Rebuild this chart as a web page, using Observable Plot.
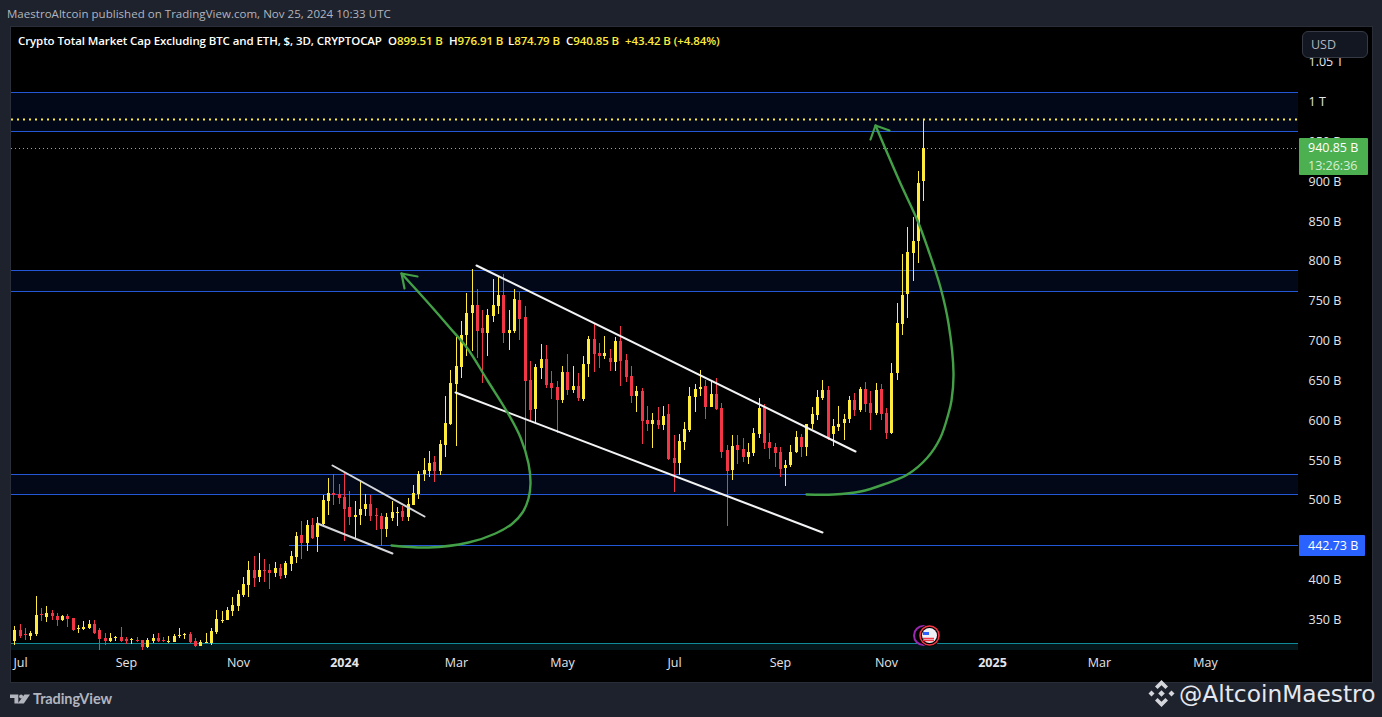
<!DOCTYPE html>
<html><head><meta charset="utf-8">
<script src="https://cdn.jsdelivr.net/npm/d3@7"></script>
<script src="https://cdn.jsdelivr.net/npm/@observablehq/plot@0.6"></script>
<style>
html,body{margin:0;padding:0;background:#1e222d;width:1382px;height:717px;overflow:hidden;font-family:"Open Sans",sans-serif}
#publish{position:absolute;left:7px;top:6px;font-size:11.5px;line-height:16px;color:#b2b5be;white-space:nowrap;letter-spacing:.03px}
#panel{position:absolute;left:10px;top:26px;width:1361px;height:655px;border:1px solid #2a2e39;background:#000;box-sizing:content-box}
#chart{position:absolute;left:0;top:0}
#legend{position:absolute;left:18px;top:33px;font-size:11.5px;font-weight:600;line-height:16px;color:#fff;white-space:nowrap;letter-spacing:-.1px}
#legend span{position:absolute;top:0;white-space:nowrap}
#legend i{font-style:normal;color:#ffeb3b}
#usd{position:absolute;left:1302px;top:31px;width:66px;height:27px;box-sizing:border-box;border:1px solid #363a45;border-radius:6px;background:#131722;color:#b2b5be;font-size:12.5px;line-height:26px;padding-left:8px}
.tag{position:absolute;left:1299px;color:#fff;font-size:12.5px;font-weight:500;box-sizing:border-box;white-space:nowrap;text-align:left;padding-left:9px;border-radius:1px}
#tagClose{width:69px;height:37px;background:#4caf50;line-height:18px;padding-top:1px}
#tagClose small{display:block;font-size:12.5px;font-weight:400;color:#d6f0d6}
#tagLevel{width:66px;height:21px;background:#2962ff;line-height:21px}
#tv{position:absolute;left:33px;top:690px;font-family:Lato,sans-serif;font-size:14.5px;line-height:18px;font-weight:700;color:#b2b5be;letter-spacing:-.1px}
#tvlogo{position:absolute;left:10px;top:694px}
#handle{position:absolute;left:1179px;top:677px;font-family:"DejaVu Sans",sans-serif;font-size:23.3px;line-height:34px;color:#e6e8ee;white-space:nowrap}
#binance{position:absolute;left:1147px;top:680px}
</style></head><body>
<div id="publish">MaestroAltcoin published on TradingView.com, Nov 25, 2024 10:33 UTC</div>
<div id="panel"></div>
<div id="legend"></div>
<div id="usd">USD</div>
<div id="tagClose" class="tag"></div>
<div id="tagLevel" class="tag"></div>
<svg id="tvlogo" width="20" height="10" viewBox="0 0 36 18" preserveAspectRatio="none" fill="#b2b5be"><path d="M0 1h15v16H8V7H0z"/><circle cx="20" cy="4.500" r="3.500"/><path d="M26 1h10L25 17H14z"/></svg>
<div id="tv">TradingView</div>
<svg id="binance" width="29" height="27" viewBox="0 0 29 27" fill="#d4d6dc"><path d="M14.5 0l6.500 6.500-2.600 2.600-3.900-3.900-3.900 3.900L8 6.500z"/><path d="M14.500 27l6.500-6.500-2.600-2.600-3.900 3.900-3.900-3.900L8 20.500z"/><path d="M4.500 10.500l3 3-3 3-3-3z"/><path d="M24.500 10.500l3 3-3 3-3-3z"/><path d="M14.500 10.200l3.300 3.300-3.300 3.300-3.300-3.300z"/></svg>
<div id="handle">@AltcoinMaestro</div>
<script>
// ---- header text ----
const publisher = "MaestroAltcoin published on TradingView.com, Nov 25, 2024 10:33 UTC";
const seriesTitle = "Crypto Total Market Cap Excluding BTC and ETH, $, 3D, CRYPTOCAP";
const ohlcLabels = ["O", "H", "L", "C"];
const ohlcValues = ["899.51 B", "976.91 B", "874.79 B", "940.85 B"];
const changeText = "+43.42 B (+4.84%)";

// ---- 3-day candles, billions of USD, oldest first ----
const firstBarDate = "2023-06-30";
const barDays = 3;
const opens = [322.3,336.1,330.3,328.6,331.1,356.2,352.4,357.5,353.7,348.7,353.7,351.2,337.8,337.4,338.6,343.7,336.1,326.1,322.3,326.5,327.4,324.9,323.6,323.6,323.6,314.8,322.3,326.1,323.6,321.5,321.5,329.0,329.9,331.1,322.3,316.1,319.8,319.8,333.6,347.8,348.7,360,366.2,380,392.6,411.4,402.6,411.4,411.4,407.6,413.9,405.1,418.9,427.9,455.5,445.4,468,453,469.3,498.1,508.1,506.9,503.1,490.6,478,480.5,488.1,494.3,480.5,479.3,463,476.8,483,485.6,478,493.1,506.9,532,535.7,547,535.8,568.4,594.7,644.9,666.2,706.4,733.9,744,715.1,708.9,730.2,742.7,756.5,708.9,711.4,750.2,728.9,649.9,613.6,665,676.3,646.2,641.1,624.8,660,637.4,642.4,626.1,670,701.3,683.8,680,677.5,672.5,698.8,675,654.9,629.9,636.1,599.8,594.7,599.7,593.4,607.2,552.1,545.8,572.1,587.2,628.6,638.6,642.4,616,632.3,614.8,562.1,537,568.4,563.4,553.3,558.3,582.2,616,572.1,565.9,559.6,539.5,543.3,559.6,578.4,565.9,594.7,606,627.3,637.3,582.2,590.9,596,601,624.8,612.3,638.6,621,608.5,638.6,608.5,583.4,658.8,720.3,757.9,809.3,824.4,899.51];
const highs = [341.2,343.7,338.6,334.9,378.8,363.7,366.2,361.2,357.5,354.9,356.2,351.2,342.4,347.4,348.7,348.7,338.6,332.4,332.4,328.6,339.9,327.4,326.1,327.4,323.6,326.1,331.1,332.4,327.4,328.6,331.1,338.6,332.4,333.6,326.1,323.6,332.4,338.6,361.2,360,365,377.5,386.3,402.6,422.7,428.9,432.7,425.2,418.9,421.4,418.9,422.7,435.2,459.2,473,474.3,476.8,478,505.6,526.9,532,519.4,534.5,510.6,498.1,524.4,506.9,505.6,489.3,483,483,498.1,490.6,491.8,501.9,518.2,535.7,552,560.8,554.5,574.7,629.9,662.5,703.9,723.9,759,789.1,764,737.7,739,776.6,779.1,782.8,737.7,764,760.3,742.7,673.7,670,695,693.8,661.2,648.7,667.5,682.5,667.5,658.7,680,705.1,720.1,696.3,705.1,688.8,703.8,717.6,682.5,667.5,642.4,639.9,617.3,608.5,616,617.3,619.8,580.9,582.2,597.2,641.1,644.9,662.4,649.9,648.6,652.4,621,568.4,580.9,580.9,577.1,570.9,589.7,627.3,619.8,583.4,570.9,565.9,549.6,568.4,585.9,582.2,594.7,616,637.3,649.9,642.4,601,617.3,607.2,629.8,633.6,641.1,647.4,636.1,646.1,644.9,614.8,671.2,746.6,808,841.9,854.4,912.1,976.91];
const lows = [317.3,325.7,323.6,323.6,328.6,347.4,346.2,348.7,341.2,347.4,339.9,334.9,332.4,336.1,337.4,331.1,311.1,317.3,321.1,322.3,321.1,318.6,318.6,321.1,311.1,313.6,319.8,321.1,321.1,319.8,321.1,326.1,324.9,319.8,314.8,316.1,319.8,317.3,331.1,344.9,348.7,353.7,360,377.5,377.5,390.1,396.3,396.3,387.6,402.6,400.1,401.3,410.1,420.4,425.4,435.4,450.5,434.2,465.5,480.5,493.1,494.3,448,468,450.5,468,479.3,473,461.7,441.7,453,473,466.8,473,473,493.1,500.6,523.2,528.2,521.9,530.8,553.4,593.5,567.2,652.4,680,686.3,677.5,646.2,680,722.7,732.7,696.3,687.5,708.9,700.1,559.6,597.3,596,651.2,639.9,626.1,583.5,621.1,631.1,633.6,623.6,623.6,653.7,660,665,676.3,661.2,661.2,642.4,647.4,621.1,609.8,569.7,586,564.6,588.4,587.2,549.6,509.4,530.8,562.1,584.7,609.8,629.8,601,616,612.3,552.1,466.8,524.5,544.5,547,544.5,554.6,577.1,563.4,550.8,540.8,528.2,517,540.8,558.3,553.3,554.6,588.4,599.7,624.8,574.6,567.1,585.9,574.6,596,604.7,609.8,609.8,587.2,606,599.7,575.9,582.2,650,706.5,727.8,774.2,796.8,874.79];
const closes = [336.1,329.0,329.5,332.4,354.9,355.4,357.5,353.7,348.7,353.7,349.9,336.1,338.6,339.9,343.7,332.4,324.9,322.3,326.1,327.4,322.3,321.9,324.9,322.8,314.8,323.6,326.1,322.3,321.9,322.3,328.6,329.9,331.1,321.1,316.1,321.1,321.1,334.9,349.9,348.7,361.2,367.5,381.3,393.8,411.4,401.3,411.4,410.5,407.6,413.9,403.9,420.2,428.9,454.2,445.4,468,451.7,470.5,499.4,508.1,506,501.9,488.1,478,480.5,488.1,494.3,479.3,479.3,463,478,484.3,484.3,478,494.3,508.1,532,537,545.8,535.7,569.7,596,646.2,667.5,706.4,733.9,744,711.4,708.9,731.4,744,756.5,708.9,712.6,751.5,726.4,648.7,612.3,666.2,676.3,643.6,639.9,624.8,660,637.4,642.4,627.3,670,701.3,682.5,680,683.8,672.5,698.8,673.7,653.7,629.9,636.1,598.5,594.7,599.7,593.4,604.7,550.8,545.8,573.4,588.4,629.8,638.6,641.1,616,632.3,613.5,559.6,535.8,567.1,562.1,553.3,559.6,583.4,614.8,570.9,564.6,558.3,538.3,543.3,559.6,578.4,565.9,594.7,607.2,628.6,637.3,577.1,592.2,594.7,601,624.8,612.3,638.6,619.8,608.5,637.3,607.2,583.4,658.7,721.5,756.6,810.6,824.4,897.1,940.85];

// ---- price levels, billions of USD ----
const bandEdges = [[962.3, 1011.2], [761.5, 787.9], [506.8, 531.9]];
const supportLevel = 442.73;
const floorBand = [311.1, 319.9];
const highLevel = 976.91;
const closeLevel = 940.85;
const countdown = "13:26:36";
const priceTicks = [350, 400, 450, 500, 550, 600, 650, 700, 750, 800, 850, 900, 950, 1000, 1050];
const priceTickLabels = ["350 B", "400 B", "450 B", "500 B", "550 B", "600 B", "650 B", "700 B", "750 B", "800 B", "850 B", "900 B", "950 B", "1 T", "1.05 T"];

// ---- time axis, as candle numbers ----
const monthTickBars = [1, 21, 42, 83, 103, 124, 144, 164, 204, 224];
const monthTickLabels = ["Jul", "Sep", "Nov", "Mar", "May", "Jul", "Sep", "Nov", "Mar", "May"];
const yearTickBars = [62, 184];
const yearTickLabels = ["2024", "2025"];
const dateDomain = ["2023-06-28T03:00Z", "2025-06-23T10:00Z"];
const priceDomain = [311.1, 1092.8];

// ---- drawn annotations: [candle number, price] ----
const channelTop = [[86.85, 794.2], [158.1, 560.5]];
const channelBottom = [[82.9, 635.3], [151.9, 459.2]];
const flagTop = [[59.8, 543], [77.1, 479]];
const flagBottom = [[56.9, 470.1], [71.1, 432.4]];
const arrowOne = [[70.86,442.5],[77.88,440.7],[85.4,447],[90.43,457.5],[93.57,470.1],[95.45,484.6],[96.57,501.4],[97,520.3],[96.6,545.7],[95.1,578.4],[92.7,609.7],[88.9,649.9],[85.2,690],[82,715.1],[78.2,744],[72.75,784.1]];
const arrowOneHead = [[73.3,765.3],[72.75,784.1],[75.75,780.4]];
const arrowTwo = [[148.93,506.5],[154.06,506.5],[159.08,511],[163.47,519.4],[167.87,531.9],[171.63,553.6],[174.13,578.7],[175.7,608.1],[176.2,624.8],[176.6,658.7],[175.6,721.4],[174.1,766.6],[171.9,813],[169.8,850.6],[166.6,897],[161.9,969.8]];
const arrowTwoHead = [[161,952.3],[161.9,969.8],[164.5,963.6]];
const eventMark = [172, 329.3];

// ---- colours ----
const upColor = "#ffeb3b", downColor = "#f23645", bandFill = "#020818", bandLine = "#2457d6",
      floorFill = "#04171c", floorLine = "#0e8b99", arrowColor = "#43a047";

const barDate = n => new Date(Date.parse(firstBarDate + "T00:00Z") + n * barDays * 864e5);
const candles = opens.map((o, i) => ({date: barDate(i), open: o, high: highs[i], low: lows[i], close: closes[i]}));
const ups = candles.filter(d => d.close >= d.open);
const downs = candles.filter(d => d.close < d.open);
const pts = a => a.map(([n, v]) => ({date: barDate(n), value: v}));
const domainDates = dateDomain.map(d => new Date(d));
const monthTicks = monthTickBars.map(barDate);
const yearTicks = yearTickBars.map(barDate);
const labelOf = (bars, labels) => new Map(bars.map((b, i) => [+barDate(b), labels[i]]));
const monthLabel = labelOf(monthTickBars, monthTickLabels);
const yearLabel = labelOf(yearTickBars, yearTickLabels);
const priceLabel = new Map(priceTicks.map((p, i) => [p, priceTickLabels[i]]));

const candleMarks = (rows, color) => [
  Plot.ruleX(rows, {x: "date", y1: "low", y2: "high", stroke: color, strokeWidth: 1}),
  Plot.ruleX(rows, {x: "date", y1: d => Math.min(d.open, d.close), y2: d => Math.max(d.open, d.close, Math.min(d.open, d.close) + 1.3), stroke: color, strokeWidth: 3})
];
const sketch = (a, color, width, extra = {}) => Plot.line(pts(a), {x: "date", y: "value", stroke: color, strokeWidth: width, ...extra});
const eventDot = (bar, r, fill, stroke, strokeWidth) => Plot.dot([0], {x: () => barDate(bar), y: () => eventMark[1], r, fill, stroke, strokeWidth});
const axisFont = {fontSize: 12.5, fill: "#e4e5ea", fontFamily: "Open Sans, sans-serif"};

const plot = Plot.plot({
  width: 1360, height: 654,
  marginTop: 0, marginLeft: 0, marginRight: 73, marginBottom: 31,
  style: {background: "#000", overflow: "visible", fontFamily: "Open Sans, sans-serif"},
  x: {type: "utc", domain: domainDates, round: true},
  y: {type: "linear", domain: priceDomain, round: true},
  marks: [
    Plot.rectY(bandEdges, {x1: domainDates[0], x2: domainDates[1], y1: d => d[0], y2: d => d[1], fill: bandFill}),
    Plot.rectY([floorBand], {x1: domainDates[0], x2: domainDates[1], y1: d => d[0], y2: d => d[1], fill: floorFill}),
    Plot.ruleY(bandEdges.flat(), {stroke: bandLine, strokeWidth: 1}),
    Plot.ruleY([floorBand[1]], {stroke: floorLine, strokeWidth: 1}),
    Plot.ruleY([supportLevel], {x1: barDate(51.7), x2: domainDates[1], stroke: bandLine, strokeWidth: 1}),
    Plot.ruleY([highLevel], {stroke: upColor, strokeWidth: 2, strokeDasharray: "2,4"}),
    Plot.ruleY([closeLevel], {stroke: "#5fd068", strokeWidth: 1, strokeDasharray: "1,3"}),
    ...candleMarks(downs, downColor),
    ...candleMarks(ups, upColor),
    sketch(channelTop, "#f2f3f5", 2),
    sketch(channelBottom, "#f2f3f5", 2),
    sketch(flagTop, "#d5d6da", 2),
    sketch(flagBottom, "#d5d6da", 2),
    sketch(arrowOne, arrowColor, 2.4, {curve: "catmull-rom"}),
    sketch(arrowOneHead, arrowColor, 2.2),
    sketch(arrowTwo, arrowColor, 2.4, {curve: "catmull-rom"}),
    sketch(arrowTwoHead, arrowColor, 2.2),
    eventDot(eventMark[0] - 1, 9.5, "#000", "#9c27b0", 2),
    eventDot(eventMark[0], 11, "#000", "none", 0),
    eventDot(eventMark[0], 9.5, "#000", "#f23645", 1.6),
    eventDot(eventMark[0], 7.5, "#eef0f6", "none", 0),
    Plot.rectY([0], {x1: () => barDate(eventMark[0] - 1), x2: () => barDate(eventMark[0]), y1: () => eventMark[1], y2: () => eventMark[1] + 5, fill: "#2962ff"}),
    Plot.ruleY([eventMark[1] - 3, eventMark[1] - 6], {x1: () => barDate(eventMark[0] - 1), x2: () => barDate(eventMark[0] + 1), stroke: "#f23645", strokeWidth: 1.5}),
    Plot.axisX({ticks: monthTicks, tickSize: 0, tickPadding: 8, tickFormat: d => monthLabel.get(+d), ...axisFont}),
    Plot.axisX({ticks: yearTicks, tickSize: 0, tickPadding: 8, tickFormat: d => yearLabel.get(+d), fontWeight: 700, ...axisFont}),
    Plot.axisY({anchor: "right", ticks: priceTicks, tickSize: 0, tickPadding: 10, textAnchor: "start", tickFormat: d => priceLabel.get(d), ...axisFont})
  ]
});
plot.id = "chart";
document.getElementById("panel").append(plot);

// header legend, tags placed from the chart's own y scale
const legend = document.getElementById("legend");
const add = (html, left) => { const s = document.createElement("span"); s.innerHTML = html; s.style.left = left + "px"; legend.append(s); };
add(seriesTitle, 0);
[370, 431, 490, 548].forEach((left, i) => add(`${ohlcLabels[i]}<i>${ohlcValues[i]}</i>`, left));
add(`<i>${changeText}</i>`, 607);
const panelTop = 27, y = plot.scale("y");
const tc = document.getElementById("tagClose");
tc.innerHTML = `${ohlcValues[3]}<small>${countdown}</small>`;
tc.style.top = (panelTop + y.apply(closeLevel) - 10) + "px";
const tl = document.getElementById("tagLevel");
tl.textContent = supportLevel + " B";
tl.style.top = (panelTop + y.apply(supportLevel) - 10) + "px";
</script>
</body></html>
